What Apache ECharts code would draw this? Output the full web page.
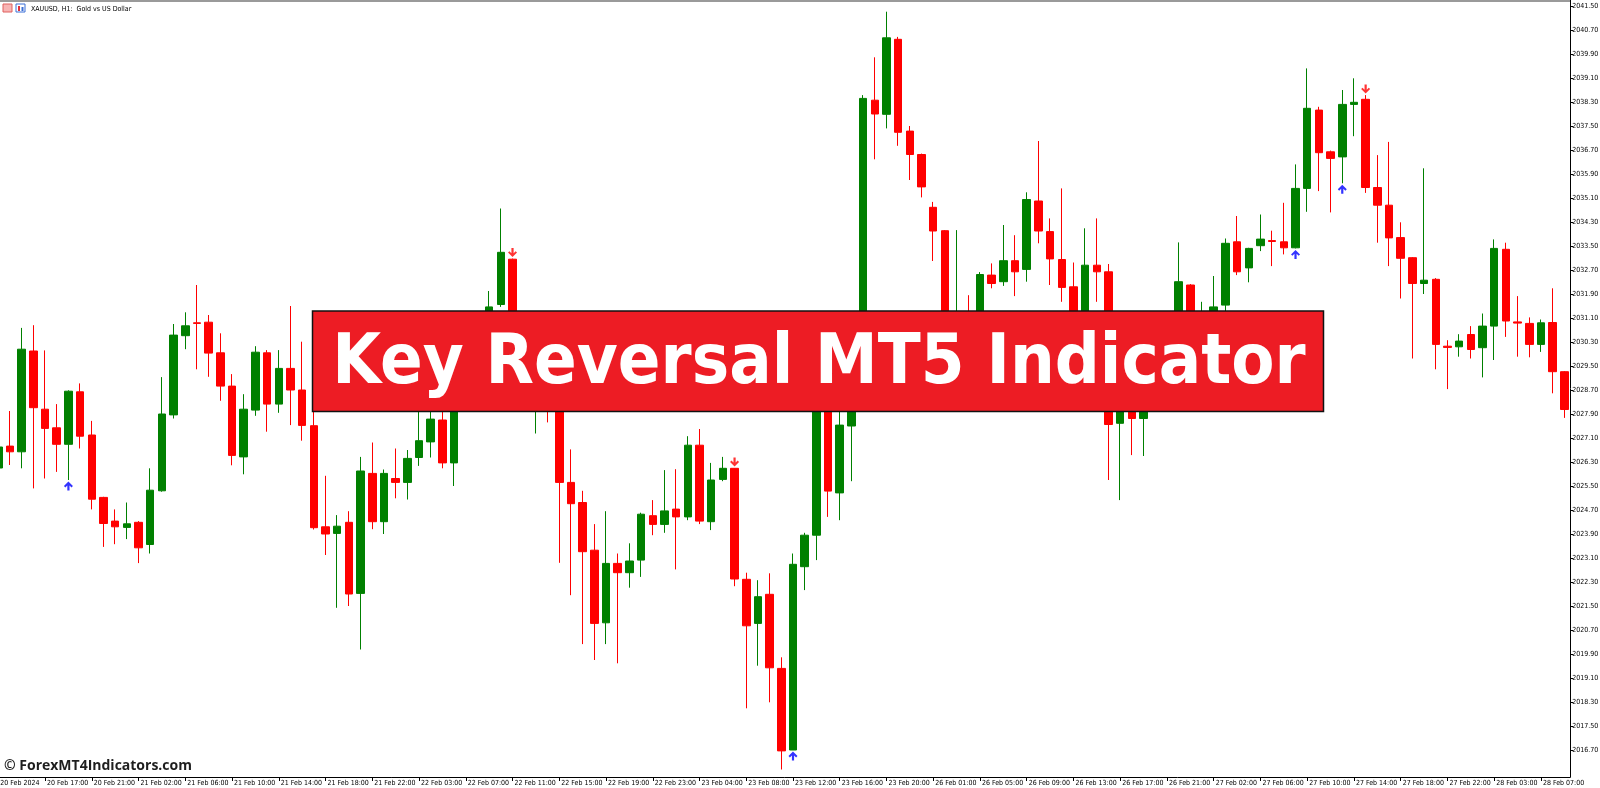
<!DOCTYPE html>
<html><head><meta charset="utf-8">
<script src="https://cdn.jsdelivr.net/npm/echarts@6/dist/echarts.min.js"></script>
<style>html,body{margin:0;padding:0;background:#fff;overflow:hidden}#c{width:1600px;height:788px}</style>
</head><body><div id="c"></div>
<script>
// Hourly trading sessions shown (day, first hour, last hour)
const sessions = [['20 Feb',13,23],['21 Feb',1,23],['22 Feb',1,23],['23 Feb',1,23],['26 Feb',1,23],['27 Feb',1,23],['28 Feb',1,9]];
const firstLabel = '20 Feb 2024';

const open = [2026.12,2026.85,2026.66,2030.02,2028.08,2027.46,2026.91,2028.66,2027.22,2025.14,
2024.35,2024.14,2024.31,2023.57,2025.36,2027.89,2030.53,2030.96,2030.98,2029.96,
2028.85,2026.49,2028.05,2029.96,2028.25,2029.44,2028.72,2027.53,2024.16,2023.94,
2024.31,2021.94,2025.94,2024.33,2025.77,2025.64,2026.47,2026.99,2027.72,2026.29,
2028.60,2029.80,2031.20,2031.57,2033.08,2030.40,2029.50,2030.00,2029.20,2025.64,
2024.97,2023.38,2020.96,2022.94,2022.63,2023.05,2024.53,2024.24,2024.75,2024.49,
2026.88,2024.33,2025.74,2026.11,2022.41,2020.94,2021.91,2019.44,2016.72,2022.83,
2023.88,2029.50,2025.29,2027.52,2030.70,2038.38,2037.91,2040.41,2037.35,2036.57,
2034.81,2034.03,2030.20,2030.90,2030.30,2032.55,2032.33,2033.03,2032.74,2035.02,
2034.00,2033.07,2032.16,2030.80,2032.88,2032.66,2027.61,2029.30,2027.77,2029.00,
2029.80,2029.40,2032.22,2030.50,2031.10,2031.55,2033.66,2032.79,2033.53,2033.70,
2033.66,2033.46,2035.44,2038.05,2036.66,2036.49,2038.24,2038.41,2035.47,2034.88,
2033.80,2033.13,2032.27,2032.41,2030.18,2030.16,2030.57,2030.13,2030.85,2033.41,
2030.99,2030.94,2030.24,2030.97,2029.33];
const high = [2027.00,2028.02,2030.79,2030.88,2030.04,2028.25,2028.71,2028.94,2027.69,2025.16,
2024.74,2024.97,2024.35,2026.11,2029.15,2030.92,2031.31,2032.22,2031.22,2030.61,
2029.25,2028.58,2030.18,2030.05,2030.05,2031.52,2030.33,2028.30,2025.86,2024.55,
2024.68,2026.49,2026.97,2026.07,2026.77,2026.72,2028.10,2028.40,2028.10,2028.90,
2030.20,2031.30,2032.02,2034.77,2033.10,2030.90,2030.60,2030.30,2029.50,2026.74,
2025.36,2024.25,2024.68,2023.27,2023.61,2024.63,2025.05,2026.05,2026.08,2027.18,
2027.42,2026.29,2026.49,2026.12,2022.63,2022.38,2022.61,2019.81,2023.27,2023.96,
2030.30,2030.40,2028.40,2031.20,2038.55,2039.81,2041.33,2040.49,2037.52,2036.60,
2034.99,2034.05,2034.05,2031.88,2032.65,2032.94,2034.22,2033.88,2035.31,2037.02,
2034.44,2035.44,2032.97,2034.11,2034.44,2032.92,2029.80,2029.60,2029.50,2030.20,
2030.30,2033.64,2032.25,2031.66,2032.52,2033.77,2034.52,2033.46,2034.57,2034.03,
2034.96,2036.24,2039.44,2038.16,2036.70,2038.72,2039.11,2038.55,2036.55,2036.99,
2034.31,2033.15,2036.11,2032.45,2030.38,2030.58,2030.85,2031.27,2033.74,2033.63,
2031.85,2031.14,2031.07,2032.11,2029.35];
const low = [2025.90,2026.22,2026.11,2025.44,2025.77,2025.99,2025.72,2026.77,2024.74,2023.49,
2023.58,2023.75,2022.95,2023.27,2025.33,2027.77,2030.08,2029.41,2029.16,2028.36,
2026.21,2025.91,2027.86,2027.33,2027.96,2027.55,2027.03,2024.07,2023.22,2021.46,
2021.52,2020.07,2024.08,2023.92,2025.11,2025.07,2026.19,2026.47,2026.11,2025.52,
2028.30,2029.50,2030.90,2031.49,2030.00,2029.00,2027.27,2027.64,2022.96,2021.88,
2020.25,2019.72,2020.25,2019.61,2022.13,2022.49,2023.88,2023.96,2022.74,2024.38,
2024.25,2024.05,2025.68,2022.18,2018.11,2019.53,2018.31,2016.07,2016.72,2022.05,
2023.05,2024.49,2024.38,2025.68,2030.50,2036.41,2037.44,2036.86,2035.72,2035.14,
2033.02,2029.60,2029.90,2029.80,2030.00,2032.11,2032.19,2031.85,2032.33,2033.61,
2032.22,2031.66,2030.40,2030.60,2031.66,2025.72,2025.05,2026.55,2026.52,2028.60,
2028.90,2029.20,2030.10,2030.20,2030.90,2031.20,2032.55,2032.31,2033.35,2032.85,
2033.24,2033.44,2034.66,2035.35,2034.64,2035.61,2037.18,2035.29,2033.63,2032.85,
2031.77,2029.77,2031.92,2029.41,2028.75,2029.83,2029.77,2029.14,2029.72,2030.49,
2029.83,2029.81,2029.99,2028.61,2027.79];
const close = [2026.82,2026.66,2030.08,2028.13,2027.44,2026.91,2028.68,2027.18,2025.08,2024.27,
2024.16,2024.26,2023.46,2025.38,2027.92,2030.55,2030.86,2030.94,2029.95,2028.85,
2026.54,2028.08,2029.98,2028.25,2029.44,2028.72,2027.54,2024.13,2023.92,2024.18,
2021.92,2026.02,2024.33,2025.94,2025.64,2026.44,2027.03,2027.75,2026.29,2028.60,
2029.80,2031.10,2031.49,2033.31,2030.40,2029.50,2030.00,2029.20,2025.64,2024.93,
2023.33,2020.94,2022.94,2022.63,2023.02,2024.58,2024.24,2024.69,2024.49,2026.88,
2024.35,2025.72,2026.11,2022.42,2020.86,2021.83,2019.46,2016.69,2022.91,2023.88,
2029.60,2025.35,2027.55,2030.80,2038.44,2037.92,2040.46,2037.31,2036.57,2035.49,
2034.02,2030.20,2030.90,2030.30,2032.57,2032.27,2033.03,2032.66,2035.07,2034.02,
2033.09,2032.14,2030.80,2032.88,2032.66,2027.57,2029.30,2027.77,2029.00,2029.80,
2029.40,2032.33,2030.50,2031.10,2031.49,2033.61,2032.66,2033.44,2033.75,2033.67,
2033.46,2035.44,2038.11,2036.63,2036.44,2038.24,2038.31,2035.47,2034.88,2033.79,
2033.11,2032.27,2032.38,2030.24,2030.14,2030.35,2030.07,2030.85,2033.44,2031.02,
2030.95,2030.24,2030.96,2029.33,2028.07];

// Key reversal signals (bar indices)
const upArrowBars = [6, 68, 111, 115];
const downArrowBars = [44, 63, 117];

// Price-axis tick labels
const priceTicks = [2016.70,2017.50,2018.30,2019.10,2019.90,2020.70,2021.50,2022.30,2023.10,2023.90,
2024.70,2025.50,2026.30,2027.10,2027.90,2028.70,2029.50,2030.30,2031.10,2031.90,
2032.70,2033.50,2034.30,2035.10,2035.90,2036.70,2037.50,2038.30,2039.10,2039.90,
2040.70,2041.50];

const categories = [];
sessions.forEach(([d, h0, h1]) => { for (let h = h0; h <= h1; h++) categories.push(d + ' ' + String(h).padStart(2,'0') + ':00'); });

const candles = open.map((o, i) => [o, close[i], low[i], high[i]]);
const upPts = upArrowBars.map(i => [i, low[i]]);
const downPts = downArrowBars.map(i => [i, high[i]]);

const smallFont = '"DejaVu Sans Condensed","DejaVu Sans",sans-serif';
const arrowPath = 'path://M4.5 0 L9 4.5 L7.6 5.9 L5.6 3.9 L5.6 9 L3.4 9 L3.4 3.9 L1.4 5.9 L0 4.5 Z';

const chart = echarts.init(document.getElementById('c'), null, {renderer: 'canvas'});
chart.setOption({
  animation: false,
  backgroundColor: '#ffffff',
  grid: {left: -7.54, top: 0, width: 1577.7, height: 777, containLabel: false, outerBoundsMode: 'none'},
  xAxis: {
    type: 'category', data: categories, boundaryGap: true,
    axisLine: {show: true, lineStyle: {color: '#000', width: 1}},
    axisTick: {show: true, alignWithLabel: true, interval: 3, length: 4, lineStyle: {color: '#000'}},
    axisLabel: {interval: 3, align: 'left', padding: [0,0,0,2], margin: 3,
      fontSize: 7, fontFamily: smallFont, color: '#000',
      formatter: (v, i) => i === 0 ? firstLabel : v},
    splitLine: {show: false}
  },
  yAxis: {
    type: 'value', position: 'right', min: 2015.82, max: 2041.72, scale: true,
    splitLine: {show: false},
    axisLine: {show: true, lineStyle: {color: '#000', width: 1}},
    axisTick: {show: true, customValues: priceTicks, length: 3, lineStyle: {color: '#000'}},
    axisLabel: {customValues: priceTicks, formatter: v => v.toFixed(2), fontSize: 7, fontFamily: smallFont, color: '#000', margin: 2}
  },
  series: [
    {type: 'candlestick', data: candles, barWidth: 8,
      itemStyle: {color: '#008000', color0: '#FF0000', borderColor: '#008000', borderColor0: '#FF0000', borderWidth: 1}},
    {type: 'scatter', data: upPts, symbol: arrowPath, symbolSize: [9, 9], symbolOffset: [0, 6],
      itemStyle: {color: '#0000FF'}, z: 5},
    {type: 'scatter', data: downPts, symbol: arrowPath, symbolSize: [9, 9], symbolRotate: 180, symbolOffset: [0, -6],
      itemStyle: {color: '#FF0000'}, z: 5}
  ],
  graphic: [
    {type: 'line', shape: {x1: 0, y1: 1, x2: 1570, y2: 1}, style: {stroke: '#9a9a9a', lineWidth: 2}, z: 10},
    {type: 'rect', shape: {x: 3, y: 4, width: 9, height: 8}, style: {fill: '#f7b4b4', stroke: '#e0605f', lineWidth: 1}, z: 10},
    {type: 'rect', shape: {x: 16, y: 4, width: 9, height: 8}, style: {fill: '#fff', stroke: '#3b6fd6', lineWidth: 1}, z: 10},
    {type: 'rect', shape: {x: 18, y: 6, width: 2, height: 5}, style: {fill: '#e0303a'}, z: 11},
    {type: 'rect', shape: {x: 21.5, y: 7, width: 2, height: 4}, style: {fill: '#3b6fd6'}, z: 11},
    {type: 'text', x: 31, y: 9, style: {text: 'XAUUSD, H1:  Gold vs US Dollar', font: '7px ' + smallFont, fill: '#000', verticalAlign: 'middle', textVerticalAlign: 'middle'}, z: 10},
    {type: 'rect', shape: {x: 312.5, y: 311, width: 1011, height: 100.5}, style: {fill: '#ED1C24', stroke: '#111', lineWidth: 1.5}, z: 20},
    {type: 'text', x: 819, y: 365, style: {text: 'Key Reversal MT5 Indicator', font: 'bold 70px "DejaVu Sans Condensed","DejaVu Sans",sans-serif', fill: '#ffffff', align: 'center', textAlign: 'center', verticalAlign: 'middle', textVerticalAlign: 'middle'}, z: 21},
    {type: 'text', x: 4, y: 766, style: {text: '© ForexMT4Indicators.com', font: 'bold 14px "Open Sans","Noto Sans",sans-serif', fill: '#1e1e1e', verticalAlign: 'middle', textVerticalAlign: 'middle'}, z: 20}
  ]
});
</script></body></html>
